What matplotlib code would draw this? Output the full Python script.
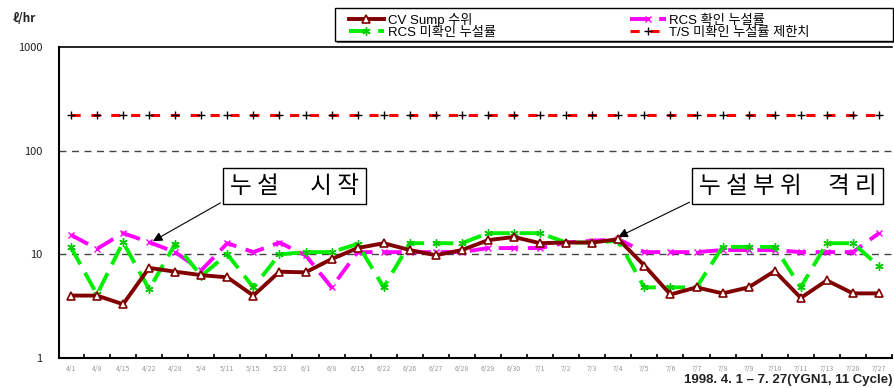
import matplotlib
matplotlib.use("Agg")
import matplotlib.pyplot as plt
from matplotlib.patches import Rectangle
import numpy as np

plt.rcParams['font.family'] = ['Noto Sans CJK KR', 'DejaVu Sans']
LATIN_KR = ['Liberation Sans', 'Noto Sans CJK KR']

dates = ["4/1", "4/8", "4/15", "4/22", "4/28", "5/4", "5/11", "5/15", "5/23", "6/1",
         "6/8", "6/15", "6/22", "6/26", "6/27", "6/28", "6/29", "6/30", "7/1", "7/2",
         "7/3", "7/4", "7/5", "7/6", "7/7", "7/8", "7/9", "7/10", "7/11", "7/13",
         "7/20", "7/27"]

cv_sump = [4.0, 4.0, 3.3, 7.4, 6.8, 6.3, 6.0, 4.0, 6.8, 6.7,
           9.0, 11.5, 12.8, 11.0, 9.8, 11.0, 13.7, 14.7, 12.8, 13.0,
           13.0, 14.0, 7.8, 4.1, 4.8, 4.2, 4.8, 6.9, 3.8, 5.6,
           4.2, 4.2]

rcs_confirmed = [15.4, 11.3, 16.0, 13.1, 10.5, 7.0, 12.8, 10.5, 13.0, 9.8,
                 4.8, 10.5, 10.5, 10.5, 10.5, 10.5, 11.5, 11.5, 11.5, 13.0,
                 13.5, 14.0, 10.5, 10.5, 10.5, 11.0, 11.0, 11.0, 10.5, 10.5,
                 10.5, 16.0]

rcs_unconfirmed = [11.7, 4.1, 13.1, 4.6, 12.6, 6.2, 10.0, 4.8, 10.0, 10.5,
                   10.5, 12.6, 4.8, 12.8, 12.8, 12.8, 16.0, 16.0, 16.0, 13.0,
                   13.0, 13.5, 4.8, 4.8, 4.8, 11.8, 11.8, 11.8, 4.8, 12.8,
                   12.8, 7.7]

ts_limit = [220] * len(dates)

labels = ["CV Sump 수위", "RCS 확인 누설률", "RCS 미확인 누설률", "T/S 미확인 누설률 제한치"]

x = np.arange(len(dates))
W, H = 895, 388

fig = plt.figure(figsize=(W / 100, H / 100), dpi=100)
ax = fig.add_axes([59 / W, 1 - 358 / H, (892 - 59) / W, (358 - 47) / H])

ax.set_yscale('log')
ax.set_ylim(1, 1000)
ax.set_xlim(-0.457, 31.26)

# decade reference lines
for v in (10, 100):
    ax.axhline(v, color='#444444', lw=1.0, ls=(0, (5, 4)), zorder=1)

h_cv, = ax.plot(x, cv_sump, color='#800000', lw=2.8, marker='^', ms=6,
                mfc='white', mec='#800000', mew=1.2, zorder=4)
h_rc, = ax.plot(x, rcs_confirmed, color='#ff00ff', lw=2.8, ls=(0, (5, 2.5)),
                marker='x', ms=5, mec='#ff00ff', mew=1.0, zorder=3)
h_ru, = ax.plot(x, rcs_unconfirmed, color='#00ee00', lw=2.8, ls=(0, (5, 2.5)),
                marker=(6, 2, 0), ms=6, mec='#00cc00', mew=1.0, zorder=3)
h_ts, = ax.plot(x, ts_limit, color='#ff0000', lw=2.2, ls=(0, (3, 3.5)),
                marker='+', ms=6, mec='black', mew=1.0, zorder=3)

# axes styling
for side in ('top', 'right'):
    ax.spines[side].set_visible(False)
ax.plot([0, 1], [1, 1], transform=ax.transAxes, color='black', lw=1.2, clip_on=False)
ax.spines['left'].set_linewidth(1.5)
ax.spines['bottom'].set_linewidth(1.5)

ax.set_yticks([1, 10, 100, 1000])
ax.set_yticklabels(["1", "10", "100", "1000"])
ax.yaxis.set_minor_locator(matplotlib.ticker.NullLocator())
ax.tick_params(axis='y', length=0, pad=12, labelsize=8, labelcolor='#222222')

ax.set_xticks(x)
ax.set_xticklabels(dates)
ax.set_xticks(x + 0.5, minor=True)
ax.tick_params(axis='x', which='major', length=0, labelsize=5, labelcolor='#999999', pad=5)
ax.tick_params(axis='x', which='minor', direction='in', length=3, width=1.2, color='black')

# unit label
fig.text(13 / W, 1 - 18 / H, "ℓ/hr", fontsize=8.5, fontweight='bold',
         color='#222222', va='center', ha='left')

# legend frame with a drop shadow, then the entries without a frame
fig.patches.append(Rectangle((337 / W, 1 - 43 / H), (893 - 335) / W, 33 / H,
                             transform=fig.transFigure, fc='#555555', ec='none', zorder=0))
fig.patches.append(Rectangle((335 / W, 1 - 41 / H), (893 - 335) / W, 33 / H,
                             transform=fig.transFigure, fc='white', ec='black',
                             lw=1.0, zorder=1))
leg = fig.legend([h_cv, h_ru, h_rc, h_ts], [labels[0], labels[2], labels[1], labels[3]],
                 loc='upper left', bbox_to_anchor=(342 / W, 1 - 6 / H),
                 ncol=2, prop={'family': LATIN_KR, 'size': 9.5}, frameon=False,
                 borderpad=0.0, labelspacing=0.0,
                 handlelength=2.7, handletextpad=0.25, columnspacing=10.2)
leg.set_zorder(2)

# annotations
box = dict(boxstyle='square,pad=0.28', fc='white', ec='black', lw=1.0)
arrow = dict(arrowstyle='-|>', color='black', lw=0.8, mutation_scale=14)
ax.annotate("누 설      시 작", xy=(3.05, 13.0), xytext=(6.1, 45.6),
            fontsize=17, ha='left', va='center', bbox=box,
            arrowprops=dict(arrow, relpos=(0, 0)))
ax.annotate("누 설 부 위     격 리", xy=(20.9, 14.3), xytext=(24.1, 45.6),
            fontsize=17, ha='left', va='center', bbox=box,
            arrowprops=dict(arrow, relpos=(0, 0)))

# period note
fig.text(893 / W, 1 - 380 / H, "1998. 4. 1 – 7. 27(YGN1, 11 Cycle)",
         fontsize=9.5, fontweight='bold', family=LATIN_KR,
         ha='right', va='center', color='#222222')

fig.savefig("out.png", dpi=100)
